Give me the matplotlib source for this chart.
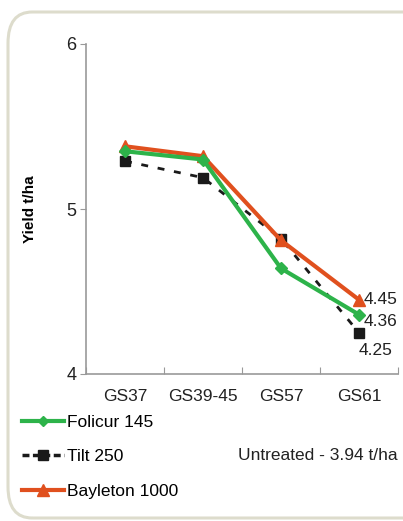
import matplotlib.pyplot as plt
from matplotlib.patches import FancyBboxPatch
from matplotlib.lines import Line2D

plt.rcParams["font.family"] = ["Liberation Sans", "DejaVu Sans"]

stages = ["GS37", "GS39-45", "GS57", "GS61"]
folicur = [5.35, 5.30, 4.64, 4.36]
tilt = [5.29, 5.19, 4.82, 4.25]
bayleton = [5.38, 5.32, 4.81, 4.45]
series_names = ["Folicur 145", "Tilt 250", "Bayleton 1000"]
untreated = 3.94

green = "#2db34a"
orange = "#e0501e"
dark = "#1a1a1a"
txt = "#222222"

fig = plt.figure(figsize=(4.03, 5.21), dpi=100)
W, H = 403, 521

# rounded panel border
panel = FancyBboxPatch((8 / W, 3 / H), 420 / W, 506 / H,
                       boxstyle="round,pad=0,rounding_size=0.06",
                       transform=fig.transFigure, facecolor="none",
                       edgecolor="#dddccc", linewidth=2.2, zorder=0)
fig.patches.append(panel)

ax = fig.add_axes([86 / W, 1 - 374 / H, 312 / W, 330 / H])
ax.set_facecolor("none")
x = range(len(stages))

ax.plot(x, tilt, color=dark, lw=2, ls=(0, (2.5, 3.5)), marker="s", ms=6.5, zorder=2)
ax.plot(x, bayleton, color=orange, lw=3, marker="^", ms=8, zorder=3)
ax.plot(x, folicur, color=green, lw=3, marker="D", ms=6, zorder=4)

ax.set_xlim(-0.5, 3.5)
ax.set_ylim(4, 6)
ax.set_yticks([4, 5, 6])
ax.set_yticklabels(["4", "5", "6"], fontsize=13, color=txt)
ax.set_xticks([-0.5, 0.5, 1.5, 2.5, 3.5], minor=False)
ax.set_xticklabels([])
ax.set_xticks(list(x), minor=True)
ax.set_xticklabels(stages, minor=True, fontsize=12.5, color=txt)
ax.tick_params(axis="x", which="minor", length=0, pad=11)
ax.tick_params(axis="x", which="major", length=5, direction="in", color="#999999")
ax.tick_params(axis="y", length=4, color="#999999", pad=3)
for s in ["top", "right"]:
    ax.spines[s].set_visible(False)
for s in ["left", "bottom"]:
    ax.spines[s].set_color("#999999")
    ax.spines[s].set_linewidth(1.2)
ax.set_ylabel("Yield t/ha", fontsize=11, fontweight="bold", labelpad=21)

# end value labels
ax.text(3.06, bayleton[-1], f"{bayleton[-1]:.2f}", fontsize=12.5, va="center", ha="left", color=txt)
ax.text(3.06, folicur[-1] - 0.04, f"{folicur[-1]:.2f}", fontsize=12.5, va="center", ha="left", color=txt)
ax.text(3.0, tilt[-1] - 0.11, f"{tilt[-1]:.2f}", fontsize=12.5, va="center", ha="left", color=txt)

handles = [
    Line2D([], [], color=green, lw=3, marker="D", ms=5.5),
    Line2D([], [], color=dark, lw=2.5, ls=(0, (2, 1)), marker="s", ms=6.5),
    Line2D([], [], color=orange, lw=3, marker="^", ms=8),
]
fig.legend(handles, series_names, loc="upper left", bbox_to_anchor=(22 / W, 1 - 415 / H),
           frameon=False, fontsize=12.5, handlelength=2.4, handletextpad=0.2,
           labelspacing=1.1, borderaxespad=0, borderpad=0)

fig.text(398 / W, 1 - 456 / H, f"Untreated - {untreated} t/ha", fontsize=12.5,
         ha="right", va="center", color=txt)

fig.savefig("out.png", dpi=100)
